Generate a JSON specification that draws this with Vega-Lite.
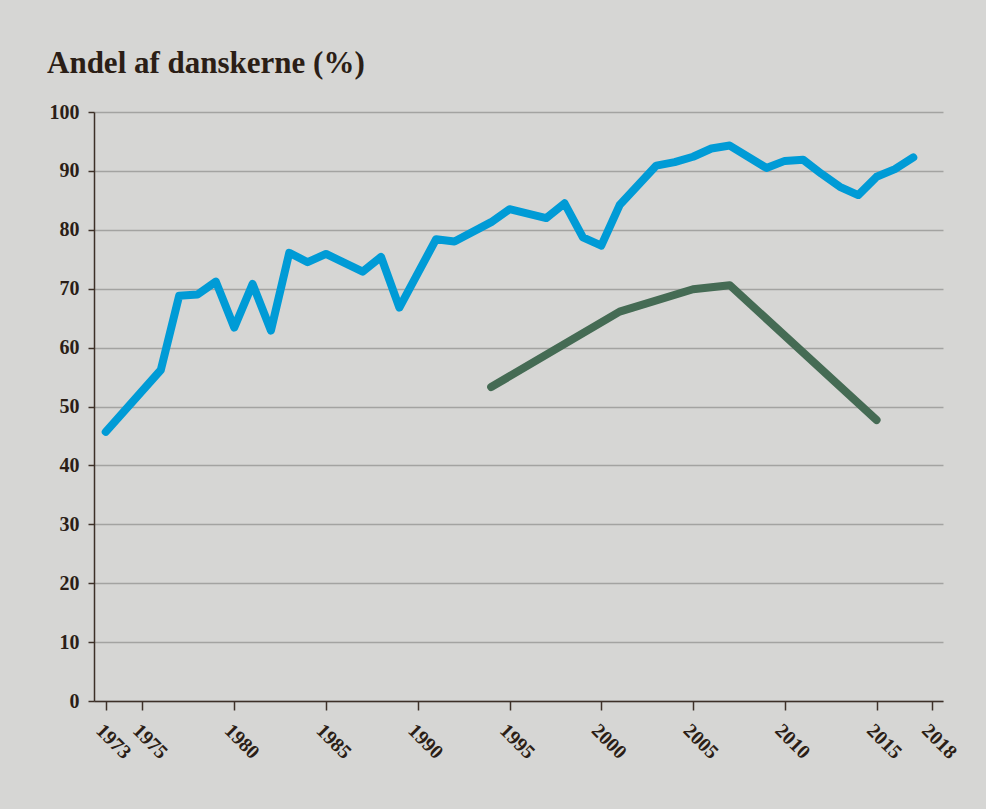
{
  "$schema": "https://vega.github.io/schema/vega-lite/v6.json",
  "width": 849,
  "height": 589,
  "autosize": "none",
  "padding": {"left": 94, "top": 112, "right": 43, "bottom": 108},
  "background": "#d6d6d4",
  "title": {
    "text": "Andel af danskerne (%)",
    "anchor": "start",
    "frame": "group",
    "font": "Liberation Serif",
    "fontSize": 31,
    "fontWeight": "bold",
    "color": "#2b1e16",
    "dx": -47,
    "offset": 22
  },
  "config": {
    "view": {"stroke": null},
    "axis": {
      "labelFont": "Liberation Serif",
      "labelFontSize": 20,
      "labelFontWeight": "bold",
      "labelColor": "#2b1e16",
      "domainColor": "#3d3028",
      "tickColor": "#3d3028",
      "domainWidth": 1.5,
      "tickWidth": 1.5,
      "title": null
    }
  },
  "data": {
    "values": [
      {"year": 1973, "value": 45.7, "series": "A"},
      {"year": 1976, "value": 56.2, "series": "A"},
      {"year": 1977, "value": 68.8, "series": "A"},
      {"year": 1978, "value": 69.0, "series": "A"},
      {"year": 1979, "value": 71.2, "series": "A"},
      {"year": 1980, "value": 63.4, "series": "A"},
      {"year": 1981, "value": 70.8, "series": "A"},
      {"year": 1982, "value": 62.9, "series": "A"},
      {"year": 1983, "value": 76.1, "series": "A"},
      {"year": 1984, "value": 74.5, "series": "A"},
      {"year": 1985, "value": 75.9, "series": "A"},
      {"year": 1987, "value": 72.9, "series": "A"},
      {"year": 1988, "value": 75.4, "series": "A"},
      {"year": 1989, "value": 66.8, "series": "A"},
      {"year": 1991, "value": 78.4, "series": "A"},
      {"year": 1992, "value": 78.0, "series": "A"},
      {"year": 1994, "value": 81.3, "series": "A"},
      {"year": 1995, "value": 83.5, "series": "A"},
      {"year": 1997, "value": 82.0, "series": "A"},
      {"year": 1998, "value": 84.5, "series": "A"},
      {"year": 1999, "value": 78.7, "series": "A"},
      {"year": 2000, "value": 77.3, "series": "A"},
      {"year": 2001, "value": 84.2, "series": "A"},
      {"year": 2003, "value": 90.9, "series": "A"},
      {"year": 2004, "value": 91.5, "series": "A"},
      {"year": 2005, "value": 92.4, "series": "A"},
      {"year": 2006, "value": 93.8, "series": "A"},
      {"year": 2007, "value": 94.3, "series": "A"},
      {"year": 2009, "value": 90.5, "series": "A"},
      {"year": 2010, "value": 91.7, "series": "A"},
      {"year": 2011, "value": 91.9, "series": "A"},
      {"year": 2012, "value": 89.5, "series": "A"},
      {"year": 2013, "value": 87.3, "series": "A"},
      {"year": 2014, "value": 85.9, "series": "A"},
      {"year": 2015, "value": 89.0, "series": "A"},
      {"year": 2016, "value": 90.3, "series": "A"},
      {"year": 2017, "value": 92.3, "series": "A"},
      {"year": 1994, "value": 53.3, "series": "B"},
      {"year": 2001, "value": 66.1, "series": "B"},
      {"year": 2005, "value": 69.9, "series": "B"},
      {"year": 2007, "value": 70.6, "series": "B"},
      {"year": 2015, "value": 47.7, "series": "B"}
    ]
  },
  "mark": {"type": "line", "strokeWidth": 8, "strokeCap": "round", "strokeJoin": "round"},
  "encoding": {
    "x": {
      "field": "year",
      "type": "quantitative",
      "scale": {"domain": [1972.36, 2018.62], "nice": false, "zero": false},
      "axis": {
        "values": [1973, 1975, 1980, 1985, 1990, 1995, 2000, 2005, 2010, 2015, 2018],
        "format": "d",
        "grid": false,
        "tickSize": 9,
        "labelAngle": 45,
        "labelAlign": "left",
        "labelBaseline": "top",
        "labelPadding": 10,
        "labelOverlap": false,
        "labelFlush": false
      }
    },
    "y": {
      "field": "value",
      "type": "quantitative",
      "scale": {"domain": [0, 100], "nice": false},
      "axis": {
        "values": [0, 10, 20, 30, 40, 50, 60, 70, 80, 90, 100],
        "grid": true,
        "gridColor": "#a3a3a1",
        "gridWidth": 1.5,
        "tickSize": 6,
        "labelPadding": 9
      }
    },
    "color": {
      "field": "series",
      "type": "nominal",
      "scale": {"domain": ["A", "B"], "range": ["#009bd6", "#456b54"]},
      "legend": null
    }
  }
}
